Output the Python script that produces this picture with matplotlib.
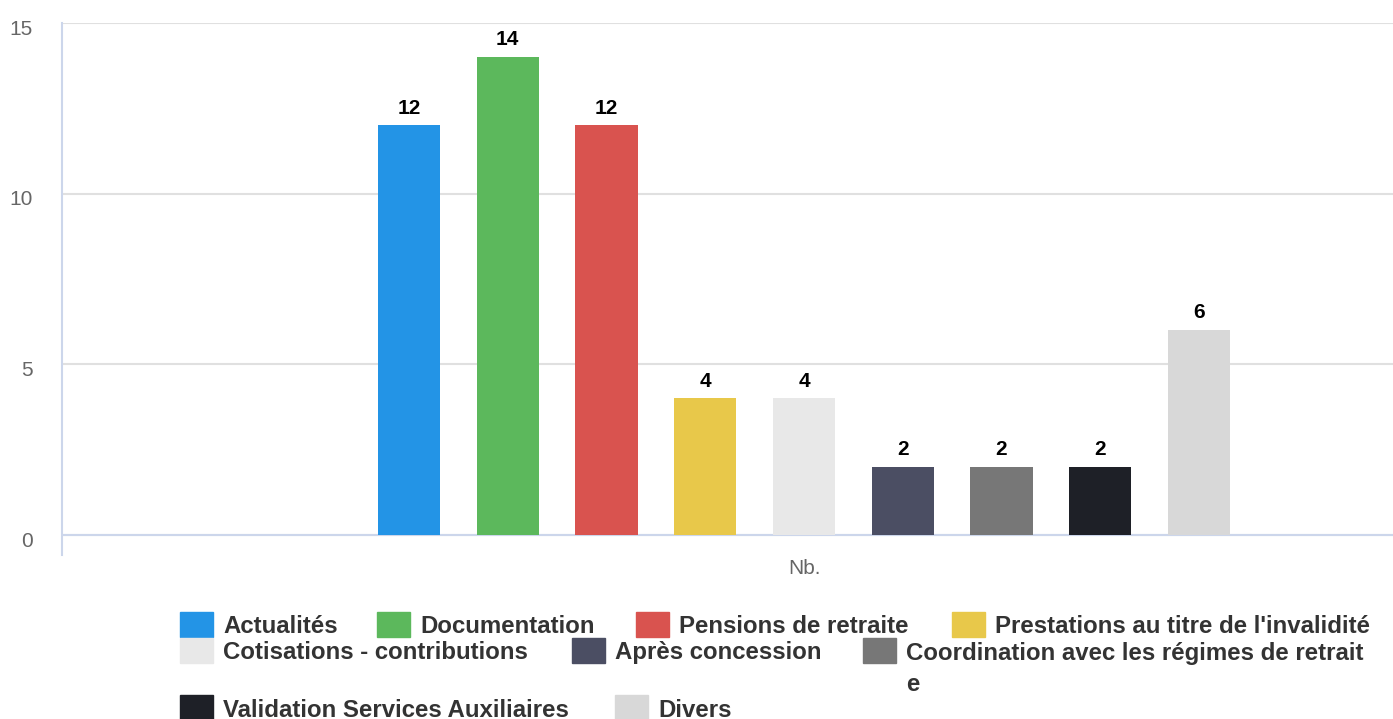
import matplotlib
matplotlib.use("Agg")
import matplotlib.pyplot as plt
from matplotlib.patches import Rectangle
from matplotlib.transforms import ScaledTranslation

categories = ["Actualités", "Documentation", "Pensions de retraite",
              "Prestations au titre de l'invalidité", "Cotisations - contributions",
              "Après concession", "Coordination avec les régimes de retrait\ne",
              "Validation Services Auxiliaires", "Divers"]
values = [12, 14, 12, 4, 4, 2, 2, 2, 6]
colors = ["#2394e6", "#5cb85c", "#d9534f", "#e8c84a", "#e8e8e8",
          "#4b4e63", "#777777", "#1e2027", "#d8d8d8"]
x_label = "Nb."
y_ticks = [0, 5, 10, 15]

W, H = 1393, 719
fig = plt.figure(figsize=(W / 100, H / 100), dpi=100)
plt.rcParams['font.family'] = ['Liberation Sans', 'DejaVu Sans']

# axes placement in pixels
left_px, top_px, bottom_px = 62, 23, 555
zero_px = 535
ax = fig.add_axes([left_px / W, (H - bottom_px) / H, 1 - left_px / W, (bottom_px - top_px) / H])
unit = (zero_px - top_px) / 15.0
ax.set_ylim(-(bottom_px - zero_px) / unit, 15)

spacing = 98.75
center0 = 409
ax.set_xlim(-(center0 - left_px) / spacing, (W - center0) / spacing)

xs = list(range(len(values)))
ax.bar(xs, values, width=0.63, color=colors, zorder=3)
for xi, v in zip(xs, values):
    ax.annotate(str(v), (xi, v), xytext=(0, 8.5), textcoords="offset points",
                ha="center", va="baseline", fontsize=15, fontweight="bold", color="#000000")

ax.set_yticks(y_ticks)
ax.set_yticklabels([str(t) for t in y_ticks])
ax.yaxis.grid(True, color="#e0e0e0", linewidth=1.5, zorder=0)
ax.tick_params(axis="y", length=0, pad=21, labelsize=15, labelcolor="#666666")
for lab in ax.get_yticklabels():
    lab.set_transform(lab.get_transform() + ScaledTranslation(0, -3 / 72, fig.dpi_scale_trans))
ax.set_xticks([(len(values) - 1) / 2])
ax.set_xticklabels([x_label])
ax.tick_params(axis="x", length=0, pad=3, labelsize=15, labelcolor="#666666")
ax.axhline(0, color="#ccd6eb", linewidth=1.5, zorder=2)
for s in ["top", "right", "bottom"]:
    ax.spines[s].set_visible(False)
ax.spines["left"].set_color("#ccd6eb")
ax.spines["left"].set_linewidth(1.5)

# legend overlay in pixel coordinates
lg = fig.add_axes([0, 0, 1, 1])
lg.set_xlim(0, W)
lg.set_ylim(H, 0)
lg.axis("off")
lg.patch.set_visible(False)
rows = [(624, 633, [(180, 0), (377, 1), (636, 2), (952, 3)]),
        (650, 659, [(180, 4), (572, 5), (863, 6)]),
        (707, 717, [(180, 7), (615, 8)])]
line_step = 32
for yc, base, items in rows:
    for sx, idx in items:
        lg.add_patch(Rectangle((sx, yc - 12.5), 33, 25, color=colors[idx], clip_on=False))
        n_extra = categories[idx].count("\n")
        lg.text(sx + 43, base + n_extra * line_step, categories[idx], ha="left", va="baseline",
                multialignment="left", fontsize=17.3, fontweight="bold",
                color="#333333", linespacing=1.42)

fig.savefig("out.png", dpi=100)
